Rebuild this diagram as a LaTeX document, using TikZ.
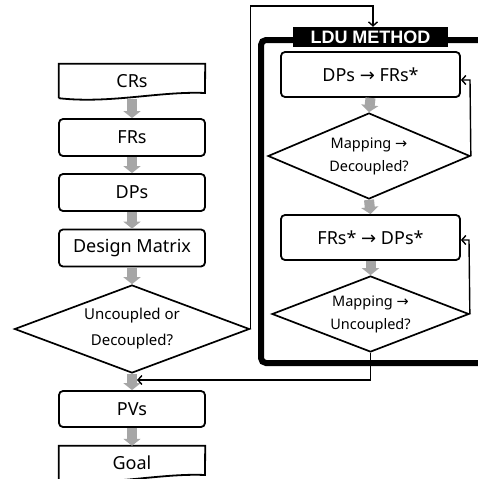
\documentclass[tikz,border=0pt]{standalone}
\usepackage{fontspec}
\setmainfont{Noto Sans}
\newfontfamily\dv{DejaVu Sans}
\newfontfamily\lbl{Liberation Sans}
\newcommand{\rarr}{{\dv →}}
\usetikzlibrary{shapes.geometric,arrows.meta}
\definecolor{arrgray}{HTML}{A6A6A6}
\begin{document}
\begin{tikzpicture}[x=1pt,y=-1pt,
  box/.style={draw, line width=1.8pt, rounded corners=4pt, minimum width=146pt, minimum height=37pt, inner sep=0pt, font=\fontsize{18}{20}\selectfont},
  docbox/.style={minimum width=146pt, minimum height=34pt, inner sep=0pt, font=\fontsize{18}{20}\selectfont},
  dia/.style={draw, diamond, line width=1.7pt, inner sep=0pt, shape aspect=2.6, align=center},
  fat/.style={draw=arrgray, line width=10pt, -{Triangle[width=17pt,length=7pt]}},
  conn/.style={draw, line width=1.4pt, -{Straight Barb[length=4pt,width=9pt]}}
]
\useasboundingbox (0,0) rectangle (478,479);
\fill[white] (0,0) rectangle (478,479);

% left column
\node[docbox] (cr) at (132,81) {CRs};
\draw[line width=1.8pt] (cr.south west) -- (cr.north west) -- (cr.north east) -- (205,93)
  .. controls (160,91) and (110,104) .. (cr.south west);
\node[box] (fr) at (132,137.5) {FRs};
\node[box] (dp) at (132,192.5) {DPs};
\node[box] (dm) at (132,248) {Design Matrix};
\node[dia, minimum width=235pt, minimum height=88pt, font=\fontsize{15}{26}\selectfont] (dl) at (132,329) {Uncoupled or\\Decoupled?};
\node[box, minimum height=36pt] (pv) at (132,409) {PVs};
\node[docbox] (goal) at (132,463) {Goal};
\draw[line width=1.8pt] (goal.south west) -- (goal.north west) -- (goal.north east) -- (205,475)
  .. controls (160,473) and (110,486) .. (goal.south west);

\draw[fat] (cr.south |- 0,99) -- (fr.north);
\draw[fat] (fr.south) -- (dp.north);
\draw[fat] (dp.south) -- (dm.north);
\draw[fat] (dm.south) -- (dl.north);
\draw[fat] (dl.south) -- (pv.north);
\draw[fat] (pv.south) -- (goal.north);

% LDU frame
\draw[line width=6pt, rounded corners=5pt] (500,40) -- (261,40) -- (261,363) -- (500,363);
\node[fill=black, text=white, font=\lbl\bfseries\fontsize{18}{20}\selectfont, minimum width=155pt, minimum height=20pt, inner sep=0pt] (ldu) at (370.5,37) {LDU METHOD};

\node[box, minimum width=179pt, minimum height=45pt] (b1) at (370.5,74.5) {DPs \rarr{} FRs*};
\node[dia, minimum width=202pt, minimum height=86pt, font=\fontsize{14.5}{23}\selectfont] (d1) at (369,156) {Mapping \rarr\\Decoupled?};
\node[box, minimum width=179pt, minimum height=45pt] (b2) at (370.5,237.5) {FRs* \rarr{} DPs*};
\node[dia, minimum width=197pt, minimum height=76pt, font=\fontsize{14.5}{23}\selectfont] (d2) at (370.5,314) {Mapping \rarr\\Uncoupled?};

\draw[fat] (b1.south) -- (d1.north);
\draw[fat] (d1.south) -- (b2.north);
\draw[fat] (b2.south) -- (d2.north);

% connectors
\coordinate (top) at (373,6);
\draw[conn] (dl.east) |- (top) -- (top |- ldu.north);
\coordinate (f1) at (470,80);
\draw[conn] (d1.east) -- (f1) -- (b1.east |- f1);
\coordinate (f2) at (469,240);
\draw[conn] (d2.east) -- (f2) -- (b2.east |- f2);
\coordinate (m) at (370.5,380);
\coordinate (pin) at (137,380);
\draw[conn] (d2.south) -- (m) -- (pin);
\end{tikzpicture}
\end{document}
